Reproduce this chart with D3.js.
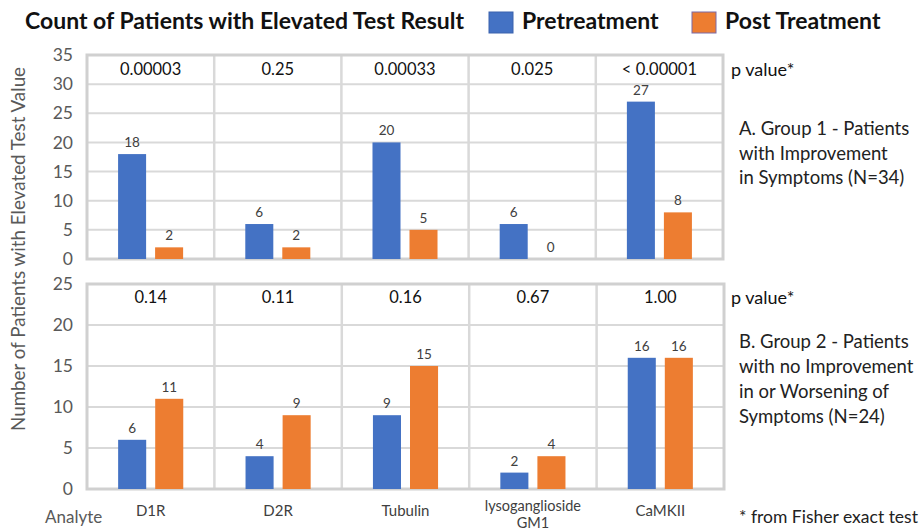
<!DOCTYPE html>
<html><head><meta charset="utf-8">
<script src="https://cdn.jsdelivr.net/npm/d3@7"></script>
<style>
html,body{margin:0;padding:0;background:#fff;}
svg{display:block;font-family:Lato,"Open Sans",sans-serif;}
</style></head>
<body><svg id="chart" width="921" height="532"></svg>
<script>
const categories = ["D1R","D2R","Tubulin","lysoganglioside GM1","CaMKII"];
const seriesNames = ["Pretreatment","Post Treatment"];
const group1Pre  = [18, 6, 20, 6, 27];
const group1Post = [2, 2, 5, 0, 8];
const group2Pre  = [6, 4, 9, 2, 16];
const group2Post = [11, 9, 15, 4, 16];
const group1P = ["0.00003","0.25","0.00033","0.025","< 0.00001"];
const group2P = ["0.14","0.11","0.16","0.67","1.00"];
const group1Ticks = [0,5,10,15,20,25,30,35];
const group2Ticks = [0,5,10,15,20,25];
const group1Note = ["A. Group 1 - Patients","with Improvement","in Symptoms (N=34)"];
const group2Note = ["B. Group 2 - Patients","with no Improvement","in or Worsening of","Symptoms (N=24)"];

const colors = ["#4472C4","#ED7D31"];
const svg = d3.select("#chart");
const gridCol = "#d9d9d9";
const textCol = "#404040";

// title + legend
svg.append("text").attr("x",25).attr("y",29).attr("font-size",23).attr("font-weight","bold")
  .attr("fill","#111").text("Count of Patients with Elevated Test Result");
const legX = [489, 692];
seriesNames.forEach((s,i)=>{
  svg.append("rect").attr("x",legX[i]).attr("y",12).attr("width",24).attr("height",21)
    .attr("fill",colors[i]).attr("stroke", i===0 ? "#3a62ad" : "#7a6aa8").attr("stroke-width",1);
  svg.append("text").attr("x",legX[i]+33).attr("y",29).attr("font-size",23).attr("font-weight","bold")
    .attr("fill","#111").text(s);
});

function panel(cfg){
  const x = d3.scaleBand().domain(categories).range([cfg.x0, cfg.x1]);
  const xs = d3.scaleBand().domain(seriesNames).range([0, x.bandwidth()]).paddingInner(0.243).paddingOuter(0.84);
  const y = d3.scaleLinear().domain([0, cfg.max]).range([cfg.yb, cfg.yt]);
  const g = svg.append("g");
  g.selectAll(".hg").data(cfg.ticks.filter(t=>t>0 && t<cfg.max)).join("line")
    .attr("x1",cfg.x0).attr("x2",cfg.x1).attr("y1",d=>y(d)).attr("y2",d=>y(d))
    .attr("stroke",gridCol).attr("stroke-width",2);
  g.selectAll(".vg").data(categories.slice(1)).join("line")
    .attr("x1",d=>x(d)).attr("x2",d=>x(d)).attr("y1",y(cfg.max)).attr("y2",y(0))
    .attr("stroke",gridCol).attr("stroke-width",2.5);
  g.append("rect").attr("x",cfg.x0).attr("y",y(cfg.max)).attr("width",cfg.x1-cfg.x0)
    .attr("height",y(0)-y(cfg.max)).attr("fill","none").attr("stroke","#d0d0d0").attr("stroke-width",3);
  const ax = d3.axisLeft(y).tickValues(cfg.ticks).tickSize(0).tickPadding(0).tickFormat(d3.format("d"));
  const ag = g.append("g").attr("transform",`translate(${cfg.x0-14},0)`).call(ax);
  ag.select(".domain").remove();
  ag.selectAll("text").attr("font-size",17.5).attr("fill","#595959").attr("font-family","Lato,sans-serif");
  const rows = categories.map((c,i)=>({c, vals:[cfg.pre[i], cfg.post[i]]}));
  const cg = g.selectAll(".cat").data(rows).join("g").attr("transform",d=>`translate(${x(d.c)},0)`);
  cg.selectAll("rect.bar").data(d=>d.vals.map((v,j)=>({v, s:seriesNames[j], j}))).join("rect")
    .attr("x",d=>xs(d.s)).attr("width",xs.bandwidth())
    .attr("y",d=>y(d.v)).attr("height",d=>y(0)-y(d.v)).attr("fill",d=>colors[d.j]);
  cg.selectAll("text.lab").data(d=>d.vals.map((v,j)=>({v, s:seriesNames[j], j}))).join("text")
    .attr("x",d=>xs(d.s)+xs.bandwidth()/2).attr("y",d=>y(d.v)-7)
    .attr("text-anchor","middle").attr("font-size",13.5).attr("fill",textCol).text(d=>d.v);
  g.selectAll(".pv").data(cfg.p).join("text")
    .attr("x",(d,i)=>x(categories[i])+x.bandwidth()/2).attr("y",y(cfg.pPos)).attr("dy","0.35em")
    .attr("text-anchor","middle").attr("font-size",16.5).attr("fill","#111").text(d=>d);
  g.append("text").attr("x",731).attr("y",y(cfg.pPos)).attr("dy","0.35em")
    .attr("font-size",18).attr("fill","#111").text("p value*");
  const nt = g.append("text").attr("x",739).attr("font-size",18.5).attr("fill","#222");
  cfg.note.forEach((l,i)=>nt.append("tspan").attr("x",739).attr("y",cfg.noteY+i*cfg.noteLH).attr("dy","0.35em").text(l));
  return {x,y};
}

panel({x0:87,x1:723,yb:259,yt:55,max:35,ticks:group1Ticks,pre:group1Pre,post:group1Post,
  p:group1P,pPos:32.5,note:group1Note,noteY:129,noteLH:24.5});
const p2 = panel({x0:87,x1:724,yb:489,yt:284,max:25,ticks:group2Ticks,pre:group2Pre,post:group2Post,
  p:group2P,pPos:23.35,note:group2Note,noteY:342,noteLH:25});

// category labels
categories.forEach(d=>{
  const cx = p2.x(d)+p2.x.bandwidth()/2;
  const words = d==="lysoganglioside GM1" ? ["lysoganglioside","GM1"] : [d];
  const multi = words.length>1;
  words.forEach((w,i)=>{
    svg.append("text").attr("x",cx).attr("y", multi ? 511 + i*17 : 516)
      .attr("text-anchor","middle").attr("font-size",multi?14.5:15).attr("fill",textCol).text(w);
  });
});
svg.append("text").attr("x",45).attr("y",517).attr("dy","0.35em").attr("font-size",17).attr("fill","#595959").text("Analyte");
svg.append("text").attr("x",739).attr("y",517).attr("dy","0.35em").attr("font-size",17.5).attr("fill","#222").text("* from Fisher exact test");

svg.append("text").attr("transform","translate(18,249) rotate(-90)").attr("dy","0.35em")
  .attr("text-anchor","middle").attr("font-size",18.8).attr("fill","#595959")
  .text("Number of Patients with Elevated Test Value");
</script></body></html>
